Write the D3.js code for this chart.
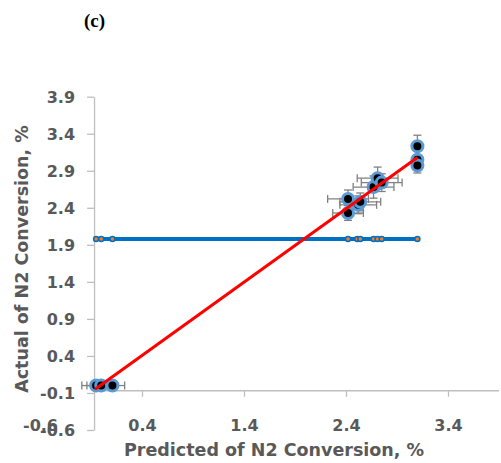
<!DOCTYPE html>
<meta charset="utf-8">
<style>
body { margin:0; background:#fff; }
.tick text { font-family:"DejaVu Sans"; font-weight:bold; font-size:16px; fill:#595959; }
.axis path, .axis line { stroke:#bfbfbf; stroke-width:1.3; }
.title { font-family:"DejaVu Sans"; font-weight:bold; font-size:17.5px; fill:#595959; }
</style>
<body>
<svg width="501" height="463" id="vis"></svg>
</body>
<script src="https://d3js.org/d3.v7.min.js"></script>
<script>
// predicted values (one per run) and the flat series drawn at the mean
var predicted = [-0.05, 0.0, 0.11, 2.42, 2.51, 2.54, 2.67, 2.71, 2.75, 3.10];
var meanLevel = 1.98;

// scatter points: predicted vs actual, with error bars
var ptPred   = [-0.05, 0.0, 0.11, 2.42, 2.42, 2.52, 2.54, 2.67, 2.71, 2.75, 3.10, 3.10, 3.10];
var ptActual = [0.0, 0.0, 0.0, 2.52, 2.33, 2.44, 2.48, 2.68, 2.80, 2.74, 3.23, 3.05, 2.97];
var errX     = [0.14, 0.14, 0.12, 0.2, 0.15, 0.18, 0.2, 0.2, 0.2, 0.2, 0.03, 0.03, 0.03];
var errY     = [0.02, 0.02, 0.02, 0.12, 0.1, 0.12, 0.12, 0.15, 0.15, 0.12, 0.15, 0.12, 0.1];

// trend line end points
var fitX = [-0.06, 3.10];
var fitY = [-0.05, 3.08];

var xTicks = [-0.6, 0.4, 1.4, 2.4, 3.4];
var yTicks = [-0.6, -0.1, 0.4, 0.9, 1.4, 1.9, 2.4, 2.9, 3.4, 3.9];
var cross = -0.07;

var svg = d3.select("svg");

var x = d3.scaleLinear().domain([-0.6, 3.9]).range([40, 499]);
var y = d3.scaleLinear().domain([-0.6, 3.9]).range([430, 96.7]);

svg.append("text")
    .attr("x", 84).attr("y", 27)
    .style("font-family", "Liberation Serif").style("font-weight", "bold").style("font-size", "19px")
    .text("(c)");

// y axis
var yaxis = svg.append("g")
    .attr("class", "axis")
    .attr("transform", "translate(" + x(cross) + ",0)")
    .call(d3.axisLeft(y).tickValues(yTicks).tickSize(7).tickSizeOuter(0).tickPadding(12)
        .tickFormat(function(d){ return d.toFixed(1); }));
yaxis.selectAll("text").attr("dy", "0.36em");

// x axis: line from y axis to the right, labels sit low
var xaxis = svg.append("g")
    .attr("class", "axis")
    .attr("transform", "translate(0," + y(cross) + ")")
    .call(d3.axisBottom(x).tickValues(xTicks).tickSize(6).tickSizeOuter(0).tickPadding(23)
        .tickFormat(function(d){ return d.toFixed(1); }));
xaxis.select(".domain").remove();
xaxis.append("line")
    .attr("x1", x(cross)).attr("x2", x(3.9))
    .attr("stroke", "#bfbfbf").attr("stroke-width", 1.3);
xaxis.selectAll(".tick").filter(function(d){ return d < cross; }).select("line").remove();

svg.append("text").attr("class", "title")
    .attr("x", 274).attr("y", 456).attr("text-anchor", "middle")
    .text("Predicted of N2 Conversion, %");

svg.append("text").attr("class", "title")
    .attr("transform", "translate(28,259) rotate(-90)")
    .attr("text-anchor", "middle")
    .text("Actual of N2 Conversion, %");

// flat series
svg.append("path")
    .datum(predicted)
    .attr("fill", "none").attr("stroke", "#0070c0").attr("stroke-width", 4)
    .attr("d", d3.line().x(function(d){ return x(d); }).y(y(meanLevel)));
svg.selectAll(".flat").data(predicted).enter().append("circle")
    .attr("class", "flat")
    .attr("cx", function(d){ return x(d); }).attr("cy", y(meanLevel))
    .attr("r", 2.5).attr("fill", "#ed7d31").attr("stroke", "#0070c0").attr("stroke-width", 1.5);

// error bars
var pts = ptPred.map(function(p, i){ return {p:p, a:ptActual[i], ex:errX[i], ey:errY[i]}; });
var eb = svg.append("g").attr("stroke", "#808080").attr("stroke-width", 1.3);
pts.forEach(function(d){
    var cx = x(d.p), cy = y(d.a);
    var x0 = x(d.p - d.ex), x1 = x(d.p + d.ex), y0 = y(d.a + d.ey), y1 = y(d.a - d.ey);
    eb.append("line").attr("x1", x0).attr("x2", x1).attr("y1", cy).attr("y2", cy);
    eb.append("line").attr("x1", x0).attr("x2", x0).attr("y1", cy - 4).attr("y2", cy + 4);
    eb.append("line").attr("x1", x1).attr("x2", x1).attr("y1", cy - 4).attr("y2", cy + 4);
    eb.append("line").attr("x1", cx).attr("x2", cx).attr("y1", y0).attr("y2", y1);
    eb.append("line").attr("x1", cx - 4).attr("x2", cx + 4).attr("y1", y0).attr("y2", y0);
    eb.append("line").attr("x1", cx - 4).attr("x2", cx + 4).attr("y1", y1).attr("y2", y1);
});

svg.selectAll(".pt").data(pts).enter().append("circle")
    .attr("class", "pt")
    .attr("cx", function(d){ return x(d.p); }).attr("cy", function(d){ return y(d.a); })
    .attr("r", 5.5).attr("fill", "#000").attr("stroke", "#5b9bd5").attr("stroke-width", 3);

// trend line
svg.append("line")
    .attr("x1", x(fitX[0])).attr("y1", y(fitY[0]))
    .attr("x2", x(fitX[1])).attr("y2", y(fitY[1]))
    .attr("stroke", "#ff0000").attr("stroke-width", 3);
</script>
